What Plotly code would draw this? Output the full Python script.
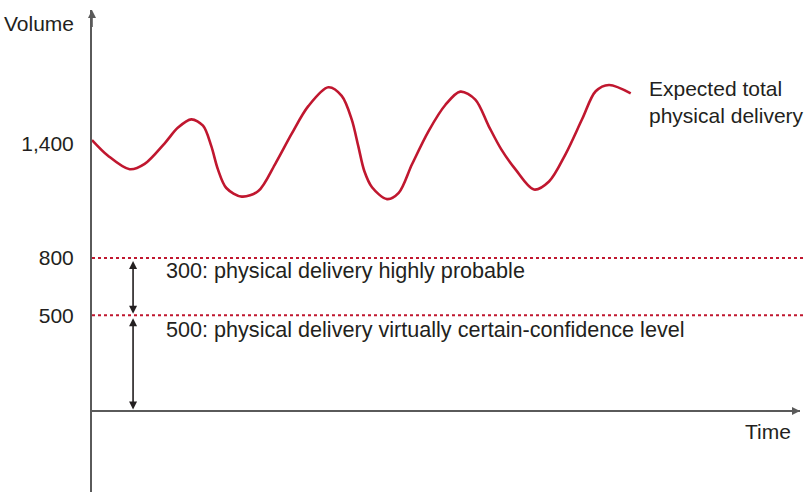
import plotly.graph_objects as go

# Data
time_pts = [0, 2.26, 5.32, 7.44, 10.27, 12.15, 14.03, 15.68, 16.85, 17.80, 18.97, 21.14, 23.49,
            25.85, 28.21, 30.55, 33.38, 35.27, 36.68, 37.61, 38.46, 39.55, 41.67, 43.32, 45.20,
            47.56, 49.90, 52.02, 54.14, 56.03, 57.81, 59.84, 62.43, 64.55, 66.91, 69.25, 71.14,
            73.02, 76.09]
volume_pts = [1417, 1335, 1264, 1292, 1400, 1482, 1525, 1492, 1385, 1262, 1166, 1121, 1150,
              1290, 1450, 1594, 1693, 1648, 1525, 1385, 1255, 1170, 1108, 1140, 1290,
              1465, 1600, 1670, 1628, 1490, 1368, 1262, 1158, 1200, 1345, 1528, 1672,
              1705, 1661]
levels = [800, 500]
tick_vals = [500, 800, 1400]
tick_text = ["500", "800", "1,400"]
level_labels = ["300: physical delivery highly probable",
                "500: physical delivery virtually certain-confidence level"]

RED = "#c0172f"
TXT = "#231f20"
AX = "#5a5a5a"
FONT = "Liberation Sans, Arial, sans-serif"
FS = 21
FS_LV = 21.6

fig = go.Figure()
fig.add_trace(go.Scatter(x=time_pts, y=volume_pts, mode="lines",
                         line=dict(color=RED, width=2.6, shape="spline", smoothing=0.9),
                         hoverinfo="skip", showlegend=False))

for lv in levels:
    fig.add_shape(type="line", xref="paper", yref="y", x0=0, x1=1.01, y0=lv, y1=lv,
                  line=dict(color=RED, width=2, dash="dot"))

arrow_x = 5.8
# double-headed arrows
fig.add_annotation(x=arrow_x, y=levels[1] + 8, ax=arrow_x, ay=levels[0] - 8, xref="x", yref="y",
                   axref="x", ayref="y", showarrow=True, arrowhead=2, arrowside="end+start",
                   arrowsize=1, arrowwidth=1.6, arrowcolor=TXT, text="")
fig.add_annotation(x=arrow_x, y=0 + 8, ax=arrow_x, ay=levels[1] - 8, xref="x", yref="y",
                   axref="x", ayref="y", showarrow=True, arrowhead=2, arrowside="end+start",
                   arrowsize=1, arrowwidth=1.6, arrowcolor=TXT, text="")

# axis arrowheads
fig.add_annotation(x=100, y=0, ax=95, ay=0, xref="x", yref="y", axref="x", ayref="y",
                   showarrow=True, arrowhead=2, arrowsize=1, arrowwidth=1.6, arrowcolor=AX, text="")
fig.add_annotation(x=0, y=2097, ax=0, ay=2000, xref="x", yref="y", axref="x", ayref="y",
                   showarrow=True, arrowhead=2, arrowsize=1, arrowwidth=1.6, arrowcolor=AX, text="")

# level text
fig.add_annotation(x=10.17, y=732, text=level_labels[0], showarrow=False,
                   xanchor="left", yanchor="middle", font=dict(size=FS_LV, color=TXT, family=FONT))
fig.add_annotation(x=10.17, y=424, text=level_labels[1], showarrow=False,
                   xanchor="left", yanchor="middle", font=dict(size=FS_LV, color=TXT, family=FONT))

fig.add_annotation(x=78.4, y=1618, text="Expected total<br>physical delivery", showarrow=False,
                   xanchor="left", yanchor="middle", align="left",
                   font=dict(size=FS, color=TXT, family=FONT))
fig.add_annotation(x=99.0, y=-110, text="Time", showarrow=False, xanchor="right", yanchor="middle",
                   font=dict(size=FS, color=TXT, family=FONT))
fig.add_annotation(xref="paper", x=-0.0226, y=2024, text="Volume", showarrow=False, xanchor="right",
                   yanchor="middle", font=dict(size=FS, color=TXT, family=FONT))

fig.update_xaxes(range=[0, 100], showgrid=False, zeroline=False, showticklabels=False,
                 showline=False, fixedrange=True)
fig.update_yaxes(range=[-424, 2097], showgrid=False, zeroline=True, zerolinecolor=AX, zerolinewidth=2,
                 showline=True, linecolor=AX, linewidth=2, tickvals=tick_vals, ticktext=tick_text,
                 ticks="", ticklabelstandoff=12, tickfont=dict(size=FS, color=TXT, family=FONT),
                 fixedrange=True)

fig.update_layout(width=805, height=494, margin=dict(l=92, r=5, t=10, b=2, autoexpand=False),
                  plot_bgcolor="white", paper_bgcolor="white", showlegend=False)

fig.write_html("out.html", config={"displayModeBar": False},
               post_script="document.body.style.margin='0';")
